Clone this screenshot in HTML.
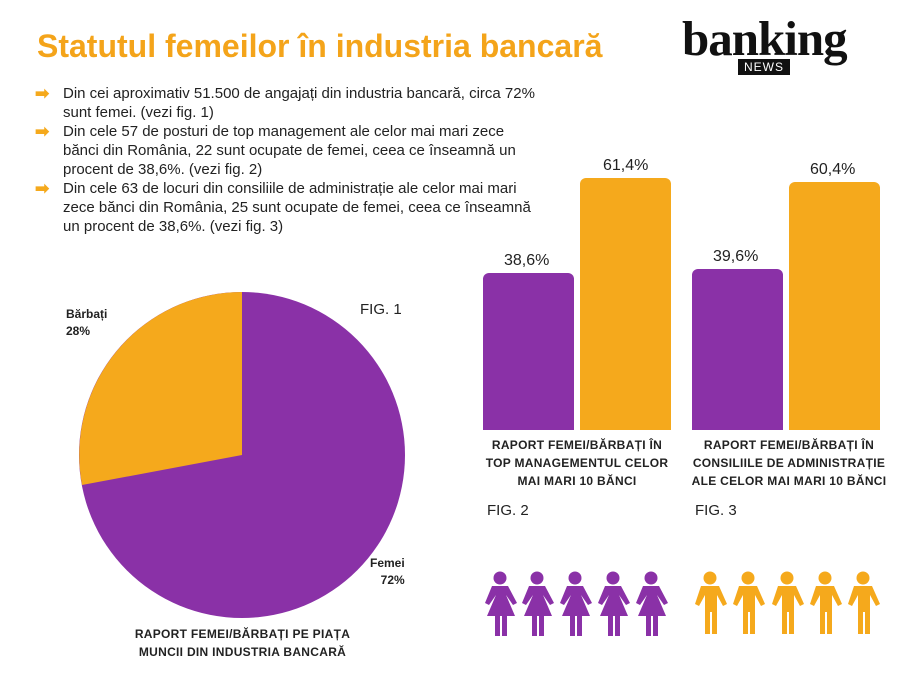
<!DOCTYPE html>
<html><head><meta charset="utf-8"><style>
body{margin:0;width:900px;height:675px;background:#fff;position:relative;overflow:hidden;font-family:"Liberation Sans",sans-serif;color:#222}
.a{position:absolute;white-space:nowrap}
.t{font-size:15px;left:63px}
.ar{position:absolute;left:35px;color:#f5a91c;font-size:17px;font-weight:bold}
.lbl{font-size:12px;font-weight:bold;text-align:center;line-height:18px;letter-spacing:0.3px}
.pct{font-size:16px}
</style></head><body>
<div class="a" style="left:37px;top:28px;font-size:32px;font-weight:bold;color:#f4a41a">Statutul femeilor în industria bancară</div>
<div class="a" style="left:682px;top:10px;font-family:'Liberation Serif',serif;font-weight:bold;font-size:49px;color:#111;letter-spacing:-1px">banking</div>
<div class="a" style="left:738px;top:59px;background:#111;color:#fff;font-size:12px;padding:1px 6px;letter-spacing:1px;line-height:14px">NEWS</div>

<div class="ar" style="top:84px">➡</div>
<div class="ar" style="top:122px">➡</div>
<div class="ar" style="top:179px">➡</div>
<div class="a t" style="top:85px">Din cei aproximativ 51.500 de angajați din industria bancară, circa 72%</div>
<div class="a t" style="top:104px">sunt femei. (vezi fig. 1)</div>
<div class="a t" style="top:123px">Din cele 57 de posturi de top management ale celor mai mari zece</div>
<div class="a t" style="top:142px">bănci din România, 22 sunt ocupate de femei, ceea ce înseamnă un</div>
<div class="a t" style="top:161px">procent de 38,6%. (vezi fig. 2)</div>
<div class="a t" style="top:180px">Din cele 63 de locuri din consiliile de administrație ale celor mai mari</div>
<div class="a t" style="top:199px">zece bănci din România, 25 sunt ocupate de femei, ceea ce înseamnă</div>
<div class="a t" style="top:218px">un procent de 38,6%. (vezi fig. 3)</div>

<svg class="a" style="left:0;top:0" width="900" height="675">
<circle cx="242" cy="455" r="163" fill="#8a31a7"/>
<path d="M242,455 L242,292 A163,163 0 0 0 82,485 Z" fill="#f5a91c"/>
<path d="M483,279 a6,6 0 0 1 6,-6 h79 a6,6 0 0 1 6,6 V430 H483Z" fill="#8a31a7"/>
<path d="M580,184 a6,6 0 0 1 6,-6 h79 a6,6 0 0 1 6,6 V430 H580Z" fill="#f5a91c"/>
<path d="M692,275 a6,6 0 0 1 6,-6 h79 a6,6 0 0 1 6,6 V430 H692Z" fill="#8a31a7"/>
<path d="M789,188 a6,6 0 0 1 6,-6 h79 a6,6 0 0 1 6,6 V430 H789Z" fill="#f5a91c"/>
<defs>
<g id="w"><circle cx="0" cy="-26" r="6.5"/><path d="M-8,-18 h16 l9,17 l-4,2 l-7,-10 l9,21 h-8 v20 h-5 v-20 h-2 v20 h-5 v-20 h-8 l9,-21 l-7,10 l-4,-2Z"/></g>
<g id="m"><circle cx="0" cy="-26" r="6.5"/><path d="M-9,-18 h18 l8,18 l-4,2 l-6,-11 v39 h-5 v-22 h-2 v22 h-5 v-39 l-6,11 l-4,-2Z"/></g>
</defs>
<g fill="#8a31a7"><use href="#w" x="500" y="604"/><use href="#w" x="537" y="604"/><use href="#w" x="575" y="604"/><use href="#w" x="613" y="604"/><use href="#w" x="651" y="604"/></g>
<g fill="#f5a91c"><use href="#m" x="710" y="604"/><use href="#m" x="748" y="604"/><use href="#m" x="787" y="604"/><use href="#m" x="825" y="604"/><use href="#m" x="863" y="604"/></g>
</svg>

<div class="a" style="left:66px;top:306px;font-size:12px;font-weight:bold;line-height:17px">Bărbați<br>28%</div>
<div class="a" style="left:370px;top:555px;font-size:12px;font-weight:bold;line-height:17px;text-align:right">Femei<br>&nbsp;&nbsp;&nbsp;72%</div>
<div class="a" style="left:360px;top:301px;font-size:15px">FIG. 1</div>
<div class="a lbl" style="left:105px;top:625px;width:275px">RAPORT FEMEI/BĂRBAȚI PE PIAȚA<br>MUNCII DIN INDUSTRIA BANCARĂ</div>

<div class="a pct" style="left:504px;top:252px">38,6%</div>
<div class="a pct" style="left:603px;top:157px">61,4%</div>
<div class="a pct" style="left:713px;top:248px">39,6%</div>
<div class="a pct" style="left:810px;top:161px">60,4%</div>
<div class="a lbl" style="left:472px;top:436px;width:210px">RAPORT FEMEI/BĂRBAȚI ÎN<br>TOP MANAGEMENTUL CELOR<br>MAI MARI 10 BĂNCI</div>
<div class="a lbl" style="left:684px;top:436px;width:210px">RAPORT FEMEI/BĂRBAȚI ÎN<br>CONSILIILE DE ADMINISTRAȚIE<br>ALE CELOR MAI MARI 10 BĂNCI</div>
<div class="a" style="left:487px;top:502px;font-size:15px">FIG. 2</div>
<div class="a" style="left:695px;top:502px;font-size:15px">FIG. 3</div>
</body></html>
